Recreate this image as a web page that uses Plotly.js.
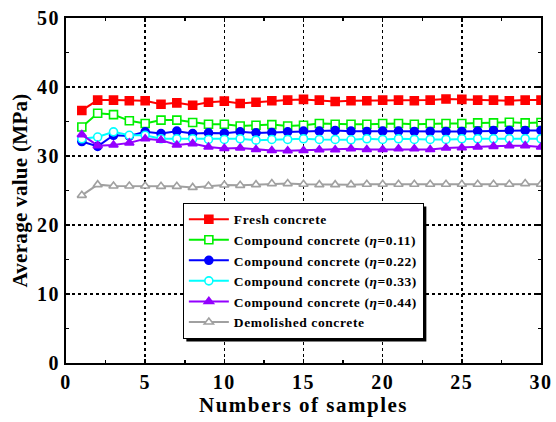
<!DOCTYPE html>
<html>
<head>
<meta charset="utf-8">
<script src="https://cdn.plot.ly/plotly-3.0.1.min.js"></script>
<style>
html,body{margin:0;padding:0;background:#fff}
#chart{width:556px;height:422px;position:relative}
.legendtext{letter-spacing:0.6px}
.xtick text,.ytick text{letter-spacing:1.5px}
.xtitle{letter-spacing:1.5px}
.ytitle{letter-spacing:0.3px}
</style>
</head>
<body>
<div id="chart"></div>
<script>
const samples = [1,2,3,4,5,6,7,8,9,10,11,12,13,14,15,16,17,18,19,20,21,22,23,24,25,26,27,28,29,30];
const freshConcrete = [36.6,38.1,38.1,38.0,38.0,37.5,37.7,37.35,37.8,37.95,37.6,37.8,38.0,38.1,38.2,38.1,37.9,38.0,38.0,38.1,38.1,38.0,38.1,38.25,38.2,38.1,38.1,38.0,38.1,38.1];
const compound011 = [34.2,36.2,36.0,35.1,34.7,35.2,35.2,34.85,34.6,34.6,34.35,34.45,34.55,34.35,34.45,34.7,34.6,34.6,34.6,34.7,34.7,34.6,34.7,34.7,34.7,34.8,34.8,34.9,34.8,34.85];
const compound022 = [32.1,31.4,33.0,32.9,33.5,33.25,33.6,33.25,33.35,33.3,33.5,33.35,33.4,33.5,33.6,33.6,33.7,33.6,33.55,33.6,33.6,33.55,33.55,33.55,33.55,33.6,33.7,33.7,33.7,33.7];
const compound033 = [32.5,32.75,33.5,33.0,33.0,32.5,32.5,32.5,32.4,32.4,32.5,32.3,32.4,32.4,32.5,32.4,32.4,32.35,32.5,32.4,32.5,32.4,32.4,32.4,32.5,32.5,32.5,32.5,32.5,32.5];
const compound044 = [33.1,31.5,31.6,31.9,32.5,32.3,31.6,31.8,31.3,31.1,31.15,30.95,30.8,30.75,30.8,30.9,30.9,31.05,30.95,30.95,31.05,31.05,30.95,31.15,31.2,31.3,31.4,31.5,31.5,31.3];
const demolished = [24.3,25.85,25.65,25.65,25.65,25.6,25.6,25.45,25.65,25.8,25.75,25.85,26.0,26.0,25.9,25.85,25.85,25.85,25.9,25.9,25.9,25.9,25.9,25.9,25.9,25.9,25.9,25.9,26.0,25.9];
const seriesNames = ["Fresh concrete","Compound concrete (<i>η</i>=0.11)","Compound concrete (<i>η</i>=0.22)","Compound concrete (<i>η</i>=0.33)","Compound concrete (<i>η</i>=0.44)","Demolished concrete"];
const xTicks = [0,5,10,15,20,25,30];
const yTicks = [0,10,20,30,40,50];

const styles = [
  {c:'#FF0000', sym:'square', fill:'#FF0000'},
  {c:'#00F000', sym:'square', fill:'#FFFFFF'},
  {c:'#0000FF', sym:'circle', fill:'#0000FF'},
  {c:'#00FFFF', sym:'circle', fill:'#FFFFFF'},
  {c:'#9400FF', sym:'triangle-up', fill:'#9400FF'},
  {c:'#A0A0A0', sym:'triangle-up', fill:'#FFFFFF'}
];
const ys = [freshConcrete, compound011, compound022, compound033, compound044, demolished];
const traces = ys.map((y,i)=>({
  x: samples, y: y, name: seriesNames[i], type:'scatter', mode:'lines+markers',
  line:{color:styles[i].c, width:2},
  marker:{symbol:styles[i].sym, size:8, color:styles[i].fill, line:{color:styles[i].c, width:1.6}}
}));

const font = {family:'"Liberation Serif", "Times New Roman", serif', color:'#000'};
const axisCommon = {
  showline:true, linecolor:'#000', linewidth:2, mirror:'allticks',
  ticks:'inside', ticklen:4, tickwidth:1.5, tickcolor:'#000',
  showgrid:true, gridcolor:'#000', gridwidth:1.5, griddash:'dot',
  zeroline:false,
  tickfont:Object.assign({size:20, weight:'bold'}, font)
};
const layout = {
  width:556, height:422,
  margin:{l:66, r:15, t:18, b:59},
  paper_bgcolor:'#fff', plot_bgcolor:'#fff',
  font:font,
  showlegend:true,
  xaxis:Object.assign({}, axisCommon, {
    range:[0,30], tickvals:xTicks, ticktext:xTicks.map(String),
    minor:{ticks:'inside', ticklen:3, tickwidth:1.5, tickcolor:'#000', dtick:2.5, showgrid:false},
    title:{text:'<b>Numbers of samples</b>', font:Object.assign({size:21}, font), standoff:1}
  }),
  yaxis:Object.assign({}, axisCommon, {
    range:[0,50], tickvals:yTicks, ticktext:yTicks.map(String),
    minor:{ticks:'inside', ticklen:3, tickwidth:1.5, tickcolor:'#000', dtick:5, showgrid:false},
    title:{text:'<b>Average value (MPa)</b>', font:Object.assign({size:21}, font), standoff:4}
  }),
  legend:{
    x:0.246, y:0.464, xanchor:'left', yanchor:'top',
    bgcolor:'#fff', bordercolor:'#000', borderwidth:1,
    font:Object.assign({size:13.5, weight:'bold'}, font),
    tracegroupgap:0, itemwidth:40
  }
};
const gd = document.getElementById('chart');
Plotly.newPlot(gd, traces, layout, {staticPlot:true, displayModeBar:false}).then(()=>{
  const bg = gd.querySelector('.legend .bg');
  if (!bg) return;
  const r = bg.getBoundingClientRect();
  const c = gd.getBoundingClientRect();
  const s = gd._fullLayout._size;
  const off = 3;
  const toX = px => (px - c.left - s.l) / s.w;
  const toY = py => 1 - (py - c.top - s.t) / s.h;
  return Plotly.relayout(gd, {shapes:[{
    type:'rect', xref:'paper', yref:'paper', layer:'above',
    x0:toX(r.left + off), x1:toX(r.right + off),
    y0:toY(r.bottom + off), y1:toY(r.top + off),
    fillcolor:'#000', line:{width:0}
  }]});
});
</script>
</body>
</html>
